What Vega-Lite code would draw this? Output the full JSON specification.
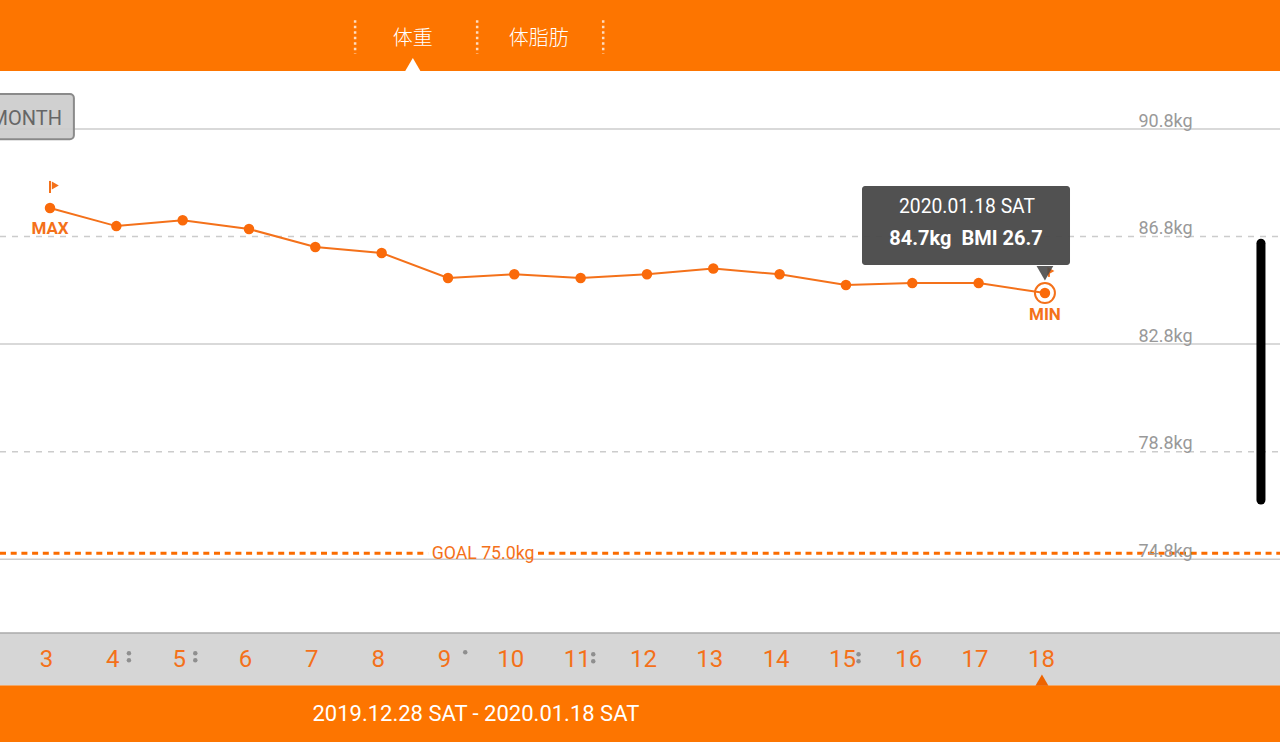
{
"$schema":"https://vega.github.io/schema/vega-lite/v6.json",
"autosize":"none",
"width":1280,"height":742,"padding":0,
"background":"#ffffff",
"config":{"view":{"stroke":null},"text":{"font":"Roboto"}},
"datasets":{
"weights":[{"d":3,"w":87.86},{"d":4,"w":87.19},{"d":5,"w":87.41},{"d":6,"w":87.08},{"d":7,"w":86.41},{"d":8,"w":86.19},{"d":9,"w":85.26},{"d":10,"w":85.4},{"d":11,"w":85.26},{"d":12,"w":85.4},{"d":13,"w":85.61},{"d":14,"w":85.4},{"d":15,"w":85.0},{"d":16,"w":85.07},{"d":17,"w":85.07},{"d":18,"w":84.7}],
"orangeBands":[{"d":2.246,"d2":21.544,"w":95.6,"w2":92.96},{"d":2.246,"d2":21.544,"w":70.11,"w2":68}],
"goal":[{"d":2.246,"d2":8.7,"w":75.02},{"d":10.357,"d2":21.544,"w":75.02}],
"gridSolid":[{"d":2.246,"d2":21.544,"w":90.8},{"d":2.246,"d2":21.544,"w":82.8},{"d":2.246,"d2":21.544,"w":74.8}],
"gridDashed":[{"d":2.246,"d2":21.544,"w":86.8},{"d":2.246,"d2":21.544,"w":78.8}],
"separators":[{"d":7.6,"w":94.85,"w2":93.6},{"d":9.44,"w":94.85,"w2":93.6},{"d":11.34,"w":94.85,"w2":93.6}],
"marks":[{"d":4.19,"w":71.3},{"d":4.19,"w":71.04},{"d":5.19,"w":71.3},{"d":5.19,"w":71.04},{"d":9.26,"w":71.34},{"d":11.19,"w":71.26},{"d":11.19,"w":71.0},{"d":15.19,"w":71.26},{"d":15.19,"w":71.0}]
},
"encoding":{
"x":{"field":"d","type":"quantitative","title":null,"scale":{"domain":[2.246,21.544],"nice":false,"zero":false},
"axis":{"orient":"bottom","offset":-83,"values":[3,4,5,6,7,8,9,10,11,12,13,14,15,16,17,18],"format":"d","domain":false,"ticks":false,"grid":false,"labelPadding":0,"labelBaseline":"middle","labelOffset":-4,"labelFont":"Roboto","labelFontSize":24,"labelColor":"#f4711a","labelOverlap":false,"labelFlush":false,"labelBound":false,"zindex":1}},
"y":{"field":"w","type":"quantitative","title":null,"scale":{"domain":[68,95.6],"nice":false,"zero":false},
"axis":{"orient":"right","offset":-142,"values":[90.8,86.8,82.8,78.8,74.8],"domain":false,"ticks":false,"grid":false,"labelExpr":"format(datum.value,'.1f')+'kg'","labelPadding":0,"labelAlign":"left","labelBaseline":"middle","labelOffset":-8,"labelFont":"Roboto","labelFontSize":18,"labelColor":"#999999","labelOverlap":false,"labelFlush":false,"labelBound":false,"zindex":1}}
},
"layer":[
{"data":{"name":"gridSolid"},"mark":{"type":"rule","color":"#cccccc","strokeWidth":1.5},"encoding":{"x2":{"field":"d2"}}},
{"data":{"name":"gridDashed"},"mark":{"type":"rule","color":"#cccccc","strokeWidth":1.5,"strokeDash":[6,6]},"encoding":{"x2":{"field":"d2"}}},
{"data":{"name":"orangeBands"},"mark":{"type":"rect","color":"#fd7500"},"encoding":{"x2":{"field":"d2"},"y2":{"field":"w2"}}},
{"data":{"values":[{"d":2.246,"d2":21.544,"w":72.05,"w2":70.11}]},"mark":{"type":"rect","color":"#d6d6d6"},"encoding":{"x2":{"field":"d2"},"y2":{"field":"w2"}}},
{"data":{"values":[{"d":2.246,"d2":21.544,"w":72.05}]},"mark":{"type":"rule","color":"#aaaaaa","strokeWidth":1.5},"encoding":{"x2":{"field":"d2"}}},
{"data":{"name":"marks"},"mark":{"type":"point","filled":true,"color":"#8f8f8f","opacity":1,"size":20}},
{"data":{"name":"separators"},"mark":{"type":"rule","color":"#ffffff","strokeWidth":2.5,"strokeDash":[2.5,3],"opacity":0.75},"encoding":{"y2":{"field":"w2"}}},
{"data":{"values":[{"d":8.47,"w":93.2}]},"mark":{"type":"point","shape":"triangle-up","filled":true,"color":"#ffffff","opacity":1,"size":230}},
{"data":{"values":[{"d":17.955,"w":70.3}]},"mark":{"type":"point","shape":"triangle-up","filled":true,"color":"#ee6400","opacity":1,"size":170}},
{"data":{"values":[{"d":2,"d2":3.36,"w":92.1,"w2":90.42}]},"mark":{"type":"rect","clip":true,"fill":"#cccccc","fillOpacity":0.92,"stroke":"#8a8a8a","strokeWidth":2,"cornerRadius":4},"encoding":{"x2":{"field":"d2"},"y2":{"field":"w2"}}},
{"data":{"values":[{"d":3.18,"w":91.17,"t":"MONTH"}]},"mark":{"type":"text","clip":true,"align":"right","baseline":"middle","fontSize":20,"color":"#666666"},"encoding":{"text":{"field":"t"}}},
{"data":{"name":"goal"},"mark":{"type":"rule","color":"#fb6c00","strokeWidth":3,"strokeDash":[6,4.7]},"encoding":{"x2":{"field":"d2"}}},
{"data":{"values":[{"d":9.528,"w":74.98,"t":"GOAL 75.0kg"}]},"mark":{"type":"text","baseline":"middle","fontSize":17.7,"color":"#f4711a"},"encoding":{"text":{"field":"t"}}},
{"data":{"values":[{"d":3.0,"d2":3.0,"w":88.87,"w2":88.42},{"d":18.06,"d2":18.06,"w":85.6,"w2":85.3}]},"mark":{"type":"rule","color":"#f4711a","strokeWidth":2},"encoding":{"y2":{"field":"w2"}}},
{"data":{"values":[{"d":3.08,"w":88.7},{"d":18.09,"w":85.52}]},"mark":{"type":"point","shape":"triangle-right","filled":true,"color":"#f4711a","opacity":1,"size":65}},
{"data":{"name":"weights"},"mark":{"type":"line","color":"#f4711a","strokeWidth":2}},
{"data":{"name":"weights"},"mark":{"type":"point","filled":true,"color":"#fa6a0a","opacity":1,"size":110}},
{"data":{"values":[{"d":18,"w":84.7}]},"mark":{"type":"point","filled":false,"color":"#f4711a","opacity":1,"strokeWidth":2,"size":400}},
{"data":{"values":[{"d":3,"w":87.08,"t":"MAX"},{"d":18,"w":83.88,"t":"MIN"}]},"mark":{"type":"text","baseline":"middle","fontSize":17,"fontWeight":"bold","color":"#f4711a"},"encoding":{"text":{"field":"t"}}},
{"data":{"values":[{"d":15.242,"d2":18.378,"w":88.68,"w2":85.74}]},"mark":{"type":"rect","color":"#4a4a4a","opacity":0.96,"cornerRadius":3},"encoding":{"x2":{"field":"d2"},"y2":{"field":"w2"}}},
{"data":{"values":[{"d":18,"w":85.44}]},"mark":{"type":"point","shape":"triangle-down","filled":true,"color":"#4a4a4a","opacity":0.9,"size":280}},
{"data":{"values":[{"d":16.825,"w":87.89,"t":"2020.01.18 SAT"}]},"mark":{"type":"text","baseline":"middle","fontSize":19.3,"color":"#ffffff"},"encoding":{"text":{"field":"t"}}},
{"data":{"values":[{"d":16.81,"w":86.7,"t":"84.7kg\u00a0\u00a0BMI 26.7"}]},"mark":{"type":"text","baseline":"middle","fontSize":20,"fontWeight":"bold","color":"#ffffff"},"encoding":{"text":{"field":"t"}}},
{"data":{"values":[{"d":8.47,"w":94.16,"t":"体重"},{"d":10.37,"w":94.16,"t":"体脂肪"}]},"mark":{"type":"text","baseline":"middle","fontSize":20,"fontWeight":300,"color":"#ffffff","font":"Noto Sans CJK JP"},"encoding":{"text":{"field":"t"}}},
{"data":{"values":[{"d":9.42,"w":69.03,"t":"2019.12.28 SAT - 2020.01.18 SAT"}]},"mark":{"type":"text","baseline":"middle","fontSize":22,"color":"#ffffff"},"encoding":{"text":{"field":"t"}}},
{"data":{"values":[{"d":21.257,"w":86.55,"w2":77.0}]},"mark":{"type":"rule","color":"#000000","strokeWidth":9,"strokeCap":"round"},"encoding":{"y2":{"field":"w2"}}}
]
}
